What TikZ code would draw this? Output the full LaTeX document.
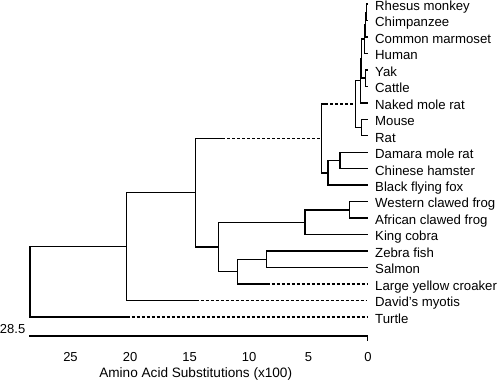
\documentclass[tikz,border=0pt]{standalone}
\usepackage{fontspec}
\setmainfont{Liberation Sans}
\begin{document}
\begin{tikzpicture}[x=1pt,y=-1pt,
  br/.style={line width=1.4pt,line cap=rect},
  dsh/.style={line width=1.4pt,dash pattern=on 3pt off 2pt},
  lbl/.style={anchor=base west,inner sep=0pt,font=\fontsize{13.2}{15}\selectfont},
  tck/.style={anchor=base,inner sep=0pt,font=\fontsize{13}{15}\selectfont}]
\useasboundingbox (0,0) rectangle (500,381);
% leaf tips
\coordinate (t0) at (367,4.00);
\coordinate (t1) at (367,20.47);
\coordinate (t2) at (367,36.94);
\coordinate (t3) at (367,53.41);
\coordinate (t4) at (367,69.88);
\coordinate (t5) at (367,86.35);
\coordinate (t6) at (367,102.82);
\coordinate (t7) at (367,119.29);
\coordinate (t8) at (367,135.76);
\coordinate (t9) at (367,152.23);
\coordinate (t10) at (367,168.70);
\coordinate (t11) at (367,185.17);
\coordinate (t12) at (367,201.64);
\coordinate (t13) at (367,218.11);
\coordinate (t14) at (367,234.58);
\coordinate (t15) at (367,251.05);
\coordinate (t16) at (367,267.52);
\coordinate (t17) at (367,283.99);
\coordinate (t18) at (367,300.46);
\coordinate (t19) at (367,316.93);
% labels
\node[lbl] (l0) at (375,10.3) {Rhesus monkey};
\node[lbl] (l1) at (375,26.77) {Chimpanzee};
\node[lbl] (l2) at (375,43.24) {Common marmoset};
\node[lbl] (l3) at (375,59.71) {Human};
\node[lbl] (l4) at (375,76.18) {Yak};
\node[lbl] (l5) at (375,92.65) {Cattle};
\node[lbl] (l6) at (375,109.12) {Naked mole rat};
\node[lbl] (l7) at (375,125.59) {Mouse};
\node[lbl] (l8) at (375,142.06) {Rat};
\node[lbl] (l9) at (375,158.53) {Damara mole rat};
\node[lbl] (l10) at (375,175.0) {Chinese hamster};
\node[lbl] (l11) at (375,191.47) {Black flying fox};
\node[lbl] (l12) at (375,207.94) {Western clawed frog};
\node[lbl] (l13) at (375,224.41) {African clawed frog};
\node[lbl] (l14) at (375,240.88) {King cobra};
\node[lbl] (l15) at (375,257.35) {Zebra fish};
\node[lbl] (l16) at (375,273.82) {Salmon};
\node[lbl] (l17) at (375,290.29) {Large yellow croaker};
\node[lbl] (l18) at (375,306.76) {David's myotis};
\node[lbl] (l19) at (375,323.23) {Turtle};
% internal nodes
\coordinate (a) at (366.5,12.24);
\coordinate (a2) at (365.5,24.59);
\coordinate (c) at (364.5,39.0);
\coordinate (yc) at (365.3,78.12);
\coordinate (d) at (361.3,58.56);
\coordinate (e) at (360.3,80.69);
\coordinate (mr) at (361.7,127.53);
\coordinate (f) at (355.3,104.11);
\coordinate (nE) at (340,160.47);
\coordinate (nD) at (328,172.82);
\coordinate (nC) at (321.7,138.47);
\coordinate (nG) at (349.3,209.88);
\coordinate (nH) at (305,222.23);
\coordinate (nJ) at (266.7,259.29);
\coordinate (nI) at (237.3,271.64);
\coordinate (nF) at (218.3,246.94);
\coordinate (nB) at (195.5,192.7);
\coordinate (nA) at (126.5,246.58);
\coordinate (nR) at (30,281.76);
% dash break points
\coordinate (bc) at (222,138.47);
\coordinate (cf) at (325,104.11);
\coordinate (ic) at (266.7,283.99);
\coordinate (ad) at (195.5,300.46);
\coordinate (rt) at (126.5,316.93);
% branches
\draw[br] (a) |- (t0) (a) |- (t1);
\draw[br] (a2) |- (a) (a2) |- (t2);
\draw[br] (c) |- (a2) (c) |- (t3);
\draw[br] (yc) |- (t4) (yc) |- (t5);
\draw[br] (d) |- (c) (d) |- (yc);
\draw[br] (e) |- (d) (e) |- (t6);
\draw[br] (mr) |- (t7) (mr) |- (t8);
\draw[br] (f) |- (e) (f) |- (mr);
\draw[br] (nE) |- (t9) (nE) |- (t10);
\draw[br] (nD) |- (nE) (nD) |- (t11);
\draw[br] (nC) |- (cf) (nC) |- (nD);
\draw[dsh] (cf) -- (f);
\draw[br] (nG) |- (t12) (nG) |- (t13);
\draw[br] (nH) |- (nG) (nH) |- (t14);
\draw[br] (nJ) |- (t15) (nJ) |- (t16);
\draw[br] (nI) |- (nJ) (nI) |- (ic);
\draw[dsh] (ic) -- (t17);
\draw[br] (nF) |- (nH) (nF) |- (nI);
\draw[br] (nB) |- (bc) (nB) |- (nF);
\draw[dsh] (bc) -- (nC);
\draw[br] (nA) |- (nB) (nA) |- (ad);
\draw[dsh] (ad) -- (t18);
\draw[br] (nR) |- (nA) (nR) |- (rt);
\draw[dsh] (rt) -- (t19);
% axis
\coordinate (ax0) at (30,336);
\coordinate (ax1) at (367.7,336);
\coordinate (ax2) at (367.7,340);
\draw[br] (ax0) -- (ax1) -- (ax2);
\node[tck,anchor=base east] (v285) at (25.5,333.3) {28.5};
\node[tck] (k25) at (70.5,361) {25};
\node[tck] (k20) at (130,361) {20};
\node[tck] (k15) at (189.5,361) {15};
\node[tck] (k10) at (249,361) {10};
\node[tck] (k5) at (308.5,361) {5};
\node[tck] (k0) at (368,361) {0};
\node[tck,font=\fontsize{13.6}{15}\selectfont] (ttl) at (195.7,377) {Amino Acid Substitutions (x100)};
\end{tikzpicture}
\end{document}
